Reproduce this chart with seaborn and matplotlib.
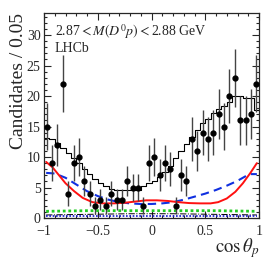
import numpy as np
import pandas as pd
import matplotlib
matplotlib.use("Agg")
import matplotlib.pyplot as plt
import seaborn as sns
from matplotlib.ticker import MultipleLocator

# data
counts = [15, 9, 12, 22, 4, 9, 10, 6, 4, 2, 3, 2, 4, 3, 3, 6, 5, 5, 2, 9,
          10, 7, 9, 8, 2, 7, 6, 13, 11, 14, 13, 14, 17, 15, 20, 23, 16, 16, 17, 22]
fit_total = [13.2, 13.0, 12.3, 11.5, 10.7, 9.8, 9.0, 8.0, 7.2, 6.4,
             5.8, 5.2, 4.8, 4.6, 4.6, 4.6, 4.6, 4.6, 5.2, 5.7,
             6.1, 6.8, 7.6, 8.6, 9.8, 11.0, 12.2, 13.3, 14.4, 15.6,
             16.3, 17.3, 17.8, 18.3, 19.1, 20.0, 20.0, 19.6, 19.6, 17.7]

red_x = [-0.98, -0.92, -0.86, -0.8, -0.72, -0.64, -0.55, -0.45, -0.35, -0.25, -0.15, -0.05,
         0.05, 0.15, 0.25, 0.35, 0.45, 0.55, 0.62, 0.7, 0.78, 0.85, 0.92, 0.98]
red_y = [9.2, 8.3, 7.0, 5.7, 4.4, 3.3, 2.6, 2.4, 2.4, 2.5, 2.7, 2.9,
         2.9, 2.8, 2.6, 2.45, 2.4, 2.4, 2.6, 3.2, 4.3, 5.7, 7.4, 9.0]

blue_x = [-0.98, -0.9, -0.8, -0.7, -0.6, -0.5, -0.4, -0.3, -0.2, -0.1, 0.0, 0.1,
          0.2, 0.3, 0.4, 0.5, 0.6, 0.7, 0.8, 0.88, 0.92, 0.98]
blue_y = [7.4, 7.3, 6.6, 5.5, 4.4, 3.6, 3.0, 2.6, 2.4, 2.3, 2.3, 2.4,
          2.6, 3.0, 3.5, 4.0, 4.6, 5.3, 6.1, 6.9, 7.2, 7.2]

flat_x = [-0.98, -0.6, -0.2, 0.2, 0.6, 0.98]
green_y = [1.1, 1.2, 1.2, 1.2, 1.2, 1.1]
dashdot_y = [0.5, 0.6, 0.7, 0.7, 0.6, 0.5]
navy_y = [0.35, 0.35, 0.35, 0.35, 0.35, 0.35]

xtick_vals = [-1, -0.5, 0, 0.5, 1]
xtick_labels = ["\u22121", "\u22120.5", "0", "0.5", "1"]

edges = np.linspace(-1, 1, 41)
centers = 0.5 * (edges[:-1] + edges[1:])
df = pd.DataFrame({"cos": centers, "fit": fit_total, "n": counts})

sns.set_theme(style="ticks")
plt.rcParams["font.family"] = ["Liberation Serif", "DejaVu Serif"]
plt.rcParams["mathtext.fontset"] = "stix"

fig = plt.figure(figsize=(2.74, 2.60), dpi=100)
ax = fig.add_axes([0.1606, 0.1615, 0.7847, 0.788])

sns.histplot(data=df, x="cos", weights="fit", bins=40, binrange=(-1, 1),
             element="step", fill=False, color="black", linewidth=0.8, ax=ax)

sns.lineplot(x=flat_x, y=green_y, color="#22cc22", linestyle=(0, (1, 1)),
             linewidth=2.0, ax=ax)
sns.lineplot(x=flat_x, y=dashdot_y, color="black", linestyle="-.",
             linewidth=0.7, ax=ax)
sns.lineplot(x=flat_x, y=navy_y, color="#1010d0", linestyle=(0, (1, 1)),
             linewidth=1.2, ax=ax)
sns.lineplot(x=blue_x, y=blue_y, color="#1030e0", linestyle=(0, (4, 2.5)),
             linewidth=1.5, ax=ax)
sns.lineplot(x=red_x, y=red_y, color="#ff1010", linewidth=1.4, ax=ax)

ax.errorbar(df["cos"], df["n"], yerr=np.sqrt(df["n"]), fmt="o", color="black",
            ecolor="#444444", markersize=3.5, elinewidth=1.0, capsize=0, zorder=5)

ax.set_xlim(-1, 1)
ax.set_ylim(0, 33.6)
ax.set_xticks(xtick_vals)
ax.set_xticklabels(xtick_labels)
ax.xaxis.set_minor_locator(MultipleLocator(0.1))
ax.yaxis.set_major_locator(MultipleLocator(5))
ax.yaxis.set_minor_locator(MultipleLocator(1))
ax.tick_params(which="both", direction="in", top=True, right=True,
               labelsize=10, width=0.8)
ax.tick_params(axis="x", pad=5)
ax.tick_params(axis="y", pad=2.5)
ax.tick_params(which="major", length=5)
ax.tick_params(which="minor", length=2.5)
for s in ax.spines.values():
    s.set_linewidth(0.9)

ax.set_xlabel(r"$\cos\theta_p$", fontsize=13.5, loc="right", labelpad=-1)
ax.set_ylabel("Candidates / 0.05", fontsize=14, loc="top", labelpad=0)

ax.text(0.05, 0.955, r"2.87$<M(D^0p)<$2.88 GeV", transform=ax.transAxes,
        fontsize=10, va="top", ha="left")
ax.text(0.05, 0.86, "LHCb", transform=ax.transAxes,
        fontsize=10, va="top", ha="left")

fig.savefig("out.png", dpi=100)
